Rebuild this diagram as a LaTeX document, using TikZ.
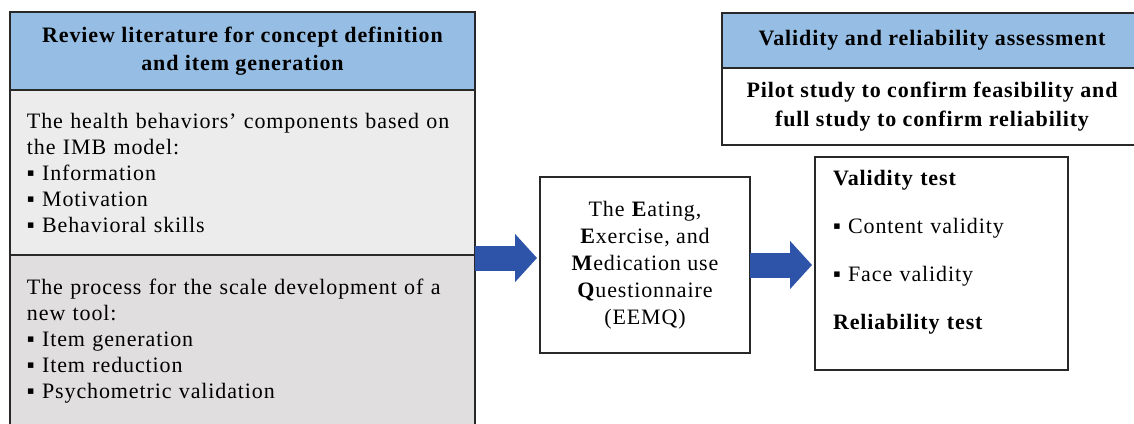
\documentclass[tikz,border=0pt]{standalone}
\usepackage{fontspec}
\setmainfont{Liberation Serif}[LetterSpace=4]
\usetikzlibrary{positioning,arrows.meta}

\definecolor{headblue}{RGB}{150,190,228}
\definecolor{imbgrey}{RGB}{236,236,236}
\definecolor{scalegrey}{RGB}{224,222,222}
\definecolor{arrowblue}{RGB}{46,84,170}
\definecolor{edgegrey}{RGB}{40,40,40}

\tikzset{
  stage/.style={rectangle, draw=edgegrey, line width=1.6pt, inner sep=0pt, outer sep=0pt},
  headbox/.style={stage, fill=headblue, align=center, font=\bfseries\fontsize{22}{28}\selectfont},
  listbox/.style={stage, minimum width=465pt, text width=431pt, align=left, font=\fontsize{22}{26}\selectfont},
  bigarrow/.style={arrowblue, line width=25pt, -{Triangle[length=22pt,width=47pt]}}
}

\begin{document}
\begin{tikzpicture}[x=1pt,y=-1pt]
\useasboundingbox (0,0) rectangle (1134,423);
\clip (0,0) rectangle (1134,423);
\fill[white] (0,0) rectangle (1134,423);

% left column
\node[headbox, minimum width=465pt, minimum height=78pt, anchor=north west] (review) at (10,12)
  {Review literature for concept definition\\and item generation};
\node[listbox, fill=imbgrey, minimum height=165pt, below=0pt of review] (imb)
  {The health behaviors’ components based on\\the IMB model:\\▪ Information\\▪ Motivation\\▪ Behavioral skills};
\node[listbox, fill=scalegrey, minimum height=173pt, below=0pt of imb] (scale)
  {The process for the scale development of a\\new tool:\\▪ Item generation\\▪ Item reduction\\▪ Psychometric validation};

% questionnaire
\node[stage, fill=white, minimum width=210pt, minimum height=176pt, align=center,
  font=\fontsize{22}{27}\selectfont] (eemq) at (645,265)
  {The \textbf{E}ating,\\\textbf{E}xercise, and\\\textbf{M}edication use\\\textbf{Q}uestionnaire\\(EEMQ)};

% right column
\node[headbox, minimum width=420pt, minimum height=55pt, anchor=north west] (assess) at (722,13)
  {Validity and reliability assessment};
\node[stage, fill=white, minimum width=420pt, minimum height=77pt, below=0pt of assess,
  align=center, font=\bfseries\fontsize{22}{29}\selectfont] (pilot)
  {Pilot study to confirm feasibility and\\full study to confirm reliability};
\node[stage, fill=white, minimum width=253pt, minimum height=213pt, text width=217pt,
  align=left, font=\fontsize{22}{26}\selectfont] (valid) at (941.5,263.5)
  {\textbf{Validity test}\\[22pt]▪ Content validity\\[22pt]▪ Face validity\\[22pt]\textbf{Reliability test}\\[-6pt]\strut};

% arrows
\draw[bigarrow, shorten >=3pt] ([yshift=-3pt]imb.south east) -- ([yshift=-3pt]imb.south east -| eemq.west);
\draw[bigarrow, shorten >=3pt] (eemq.east) -- (eemq.east -| valid.west);
\end{tikzpicture}
\end{document}
